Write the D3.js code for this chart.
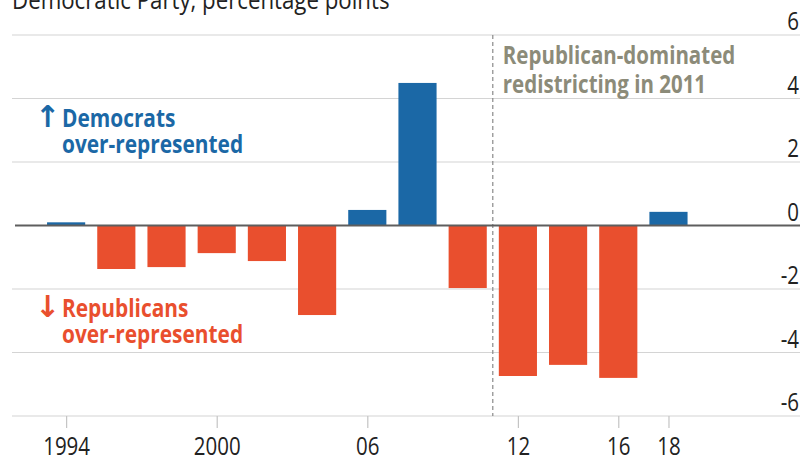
<!DOCTYPE html>
<html>
<head>
<meta charset="utf-8">
<script src="https://cdn.jsdelivr.net/npm/d3@7"></script>
<style>
  body { margin: 0; background: #fff; }
  svg { display: block; }
  text { font-family: "Open Sans", sans-serif; }
</style>
</head>
<body>
<script>
const years = [1994, 1996, 1998, 2000, 2002, 2004, 2006, 2008, 2010, 2012, 2014, 2016, 2018]
const gap = [0.1, -1.37, -1.31, -0.87, -1.12, -2.82, 0.49, 4.49, -1.97, -4.74, -4.39, -4.8, 0.43]
const tickYears = [1994, 2000, 2006, 2012, 2016, 2018]
const tickLabels = ['1994', '2000', '06', '12', '16', '18']
const yTicks = [-6, -4, -2, 0, 2, 4, 6]
const redistrictYear = 2011

const W = 804
const H = 458
const BLUE = '#1b68a6'
const RED = '#e94f2e'
const SX = 0.82 // squeeze text horizontally, source uses a condensed face

const svg = d3.select('body').append('svg')
  .attr('width', W)
  .attr('height', H)

const x = d3.scaleBand()
  .domain(years)
  .range([35, 699.6])
  .paddingInner(0.24)
  .paddingOuter(0.24)

const xYear = d3.scaleLinear()
  .domain([years[0], years[years.length - 1]])
  .range([x(years[0]) + x.bandwidth() / 2, x(years[years.length - 1]) + x.bandwidth() / 2])

const y = d3.scaleLinear()
  .domain([-6, 6])
  .range([416, 35])

const addText = (g, xx, yy, str, size, opts = {}) => g.append('text')
  .attr('transform', `translate(${xx},${yy}) scale(${opts.sx || SX},1)`)
  .attr('font-size', size)
  .attr('font-weight', opts.weight || 'normal')
  .attr('text-anchor', opts.anchor || 'start')
  .attr('fill', opts.fill || '#222')
  .style('font-family', opts.family || null)
  .text(str)

// title, clipped at the top like the source
addText(svg, 12, 9, 'Democratic Party, percentage points', 25, { sx: 0.89 })

// gridlines + right labels
const grid = svg.append('g')
grid.selectAll('line')
  .data(yTicks.filter(d => d !== 0))
  .join('line')
  .attr('x1', 12)
  .attr('x2', 800)
  .attr('y1', d => y(d))
  .attr('y2', d => y(d))
  .attr('stroke', '#d4d4d4')
  .attr('stroke-width', 1.2)

yTicks.forEach(d => addText(grid, 799, y(d) - 5, d, 25, { anchor: 'end' }))

// redistricting marker
const xr = xYear(redistrictYear)
svg.append('line')
  .attr('x1', xr)
  .attr('x2', xr)
  .attr('y1', y(6))
  .attr('y2', y(-6))
  .attr('stroke', '#8a8a8a')
  .attr('stroke-width', 1.2)
  .attr('stroke-dasharray', '4,3')

const note = ['Republican-dominated', 'redistricting in 2011']
note.forEach((s, i) => addText(svg, xr + 10, 64 + i * 29, s, 25, { weight: 'bold', fill: '#8c8b79' }))

// bars
svg.append('g')
  .selectAll('rect')
  .data(years.map((yr, i) => ({ yr, v: gap[i] })))
  .join('rect')
  .attr('x', d => x(d.yr))
  .attr('width', x.bandwidth())
  .attr('y', d => y(Math.max(0, d.v)))
  .attr('height', d => Math.abs(y(d.v) - y(0)))
  .attr('fill', d => d.v >= 0 ? BLUE : RED)

// zero line
svg.append('line')
  .attr('x1', 15)
  .attr('x2', 800)
  .attr('y1', y(0))
  .attr('y2', y(0))
  .attr('stroke', '#5e5e5e')
  .attr('stroke-width', 2)

// bottom axis
const axis = svg.append('g')
  .attr('transform', `translate(0,${y(-6)})`)
  .call(d3.axisBottom(xYear)
    .tickValues(tickYears)
    .tickFormat((d, i) => tickLabels[i])
    .tickSizeInner(12)
    .tickSizeOuter(0)
    .tickPadding(9))

axis.select('.domain').remove()
axis.selectAll('.tick line').attr('stroke', '#c4c4c4').attr('stroke-width', 1.2)
axis.selectAll('.tick text')
  .attr('transform', `scale(${SX},1)`)
  .attr('font-size', 25)
  .attr('fill', '#222')
  .style('font-family', '"Open Sans", sans-serif')

// side labels
const addLabel = (arrow, lines, yy, color) => {
  addText(svg, 35, yy, arrow, 30, { weight: 'bold', fill: color, sx: 1, family: '"DejaVu Sans", sans-serif' })
  lines.forEach((s, i) =>
    addText(svg, 62, yy + i * 26, s, 25, { weight: 'bold', fill: color, sx: 0.835 }))
}

addLabel('\u2191', ['Democrats', 'over-represented'], 127, BLUE)
addLabel('\u2193', ['Republicans', 'over-represented'], 317, RED)
</script>
</body>
</html>
